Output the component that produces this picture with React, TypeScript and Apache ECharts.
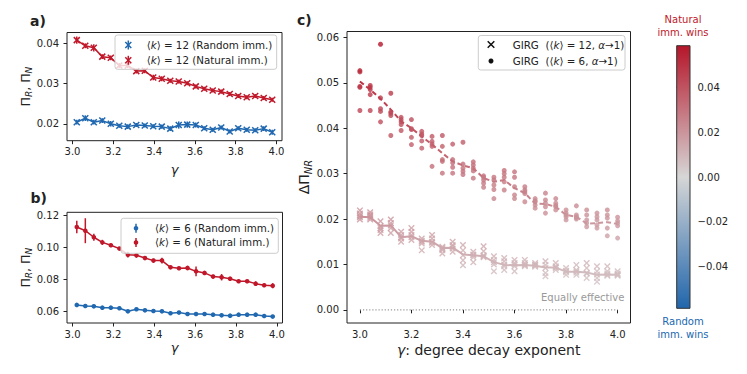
import React, { useEffect, useRef } from "react";
import * as echarts from "echarts";

const FONT = "'DejaVu Sans', 'Noto Sans', sans-serif";
const INK = "#222222";
const RED = "#c0182a";
const BLUE = "#2068b0";
const CMAP_COLORS = ["#2166ac", "#d6d6d6", "#b5162a"];
const CMAP_LIMIT = 0.0586;

// ---------- panels a) and b) ----------
const gammaAB = [3.0208, 3.0625, 3.1042, 3.1458, 3.1875, 3.2292, 3.2708, 3.3125, 3.3542, 3.3958, 3.4375, 3.4792,
  3.5208, 3.5625, 3.6042, 3.6458, 3.6875, 3.7292, 3.7708, 3.8125, 3.8542, 3.8958, 3.9375, 3.9792];

const naturalK12 = [0.0408, 0.0394, 0.0389, 0.0367, 0.0364, 0.0345, 0.0345, 0.0331, 0.0332, 0.0315, 0.0312, 0.0307,
  0.0305, 0.0301, 0.0293, 0.0287, 0.0283, 0.0280, 0.0274, 0.0269, 0.0266, 0.0269, 0.0264, 0.0260];
const naturalK12Err = [0.0009, 0.0006, 0.0009, 0.0006, 0.0006, 0.0006, 0.0006, 0.0006, 0.0006, 0.0007, 0.0006, 0.0005,
  0.0005, 0.0005, 0.0005, 0.0005, 0.0005, 0.0005, 0.0005, 0.0005, 0.0005, 0.0005, 0.0005, 0.0005];
const randomK12 = [0.0204, 0.0214, 0.0204, 0.0208, 0.0200, 0.0195, 0.0193, 0.0197, 0.0196, 0.0194, 0.0193, 0.0188,
  0.0197, 0.0198, 0.0197, 0.0189, 0.0185, 0.0191, 0.0181, 0.0189, 0.0185, 0.0184, 0.0188, 0.0179];
const randomK12Err = [0.0006, 0.0007, 0.0006, 0.0006, 0.0007, 0.0005, 0.0006, 0.0005, 0.0005, 0.0005, 0.0005, 0.0006,
  0.0009, 0.0008, 0.0006, 0.0005, 0.0005, 0.0005, 0.0005, 0.0005, 0.0005, 0.0005, 0.0006, 0.0006];

const naturalK6 = [0.1127, 0.1104, 0.1063, 0.1031, 0.1013, 0.0992, 0.0954, 0.0950, 0.0933, 0.0917, 0.0917, 0.0875,
  0.0869, 0.0871, 0.0850, 0.0840, 0.0817, 0.0813, 0.0804, 0.0788, 0.0788, 0.0773, 0.0763, 0.0760];
const naturalK6Err = [0.0039, 0.0078, 0.0022, 0.0016, 0.0010, 0.0008, 0.0018, 0.0015, 0.0012, 0.0012, 0.0018, 0.0010,
  0.0010, 0.0014, 0.0030, 0.0012, 0.0012, 0.0020, 0.0010, 0.0008, 0.0010, 0.0014, 0.0010, 0.0016];
const randomK6 = [0.0640, 0.0633, 0.0631, 0.0623, 0.0623, 0.0619, 0.0600, 0.0613, 0.0606, 0.0602, 0.0600, 0.0588,
  0.0592, 0.0583, 0.0583, 0.0583, 0.0579, 0.0575, 0.0573, 0.0579, 0.0579, 0.0579, 0.0571, 0.0567];
const randomK6Err = [0.0008, 0.0006, 0.0006, 0.0009, 0.0007, 0.0006, 0.0006, 0.0006, 0.0006, 0.0006, 0.0006, 0.0006,
  0.0006, 0.0006, 0.0006, 0.0006, 0.0006, 0.0006, 0.0006, 0.0006, 0.0006, 0.0006, 0.0006, 0.0006];

const xTicksAB = [3.0, 3.2, 3.4, 3.6, 3.8, 4.0];
const yTicksA = [0.02, 0.03, 0.04];
const yTicksB = [0.06, 0.08, 0.10, 0.12];

// ---------- panel c) ----------
const gammaC = [3.00, 3.04, 3.08, 3.12, 3.16, 3.20, 3.24, 3.28, 3.32, 3.36, 3.40, 3.44, 3.48,
  3.52, 3.56, 3.60, 3.64, 3.68, 3.72, 3.76, 3.80, 3.84, 3.88, 3.92, 3.96, 4.00];

const girgK6Runs = [
  [0.0527, 0.0524, 0.0492, 0.0490, 0.0439],
  [0.0494, 0.0490, 0.0474, 0.0439, 0.0485],
  [0.0585, 0.0467, 0.0443, 0.0437, 0.0414],
  [0.0477, 0.0433, 0.0428, 0.0384, 0.0436],
  [0.0424, 0.0419, 0.0414, 0.0408, 0.0395],
  [0.0419, 0.0397, 0.0380, 0.0364, 0.0399],
  [0.0393, 0.0387, 0.0384, 0.0372, 0.0356],
  [0.0382, 0.0371, 0.0365, 0.0360, 0.0316],
  [0.0384, 0.0360, 0.0331, 0.0327, 0.0301],
  [0.0365, 0.0331, 0.0324, 0.0314, 0.0301],
  [0.0369, 0.0321, 0.0312, 0.0305, 0.0298],
  [0.0326, 0.0319, 0.0312, 0.0306, 0.0290],
  [0.0295, 0.0286, 0.0279, 0.0270, 0.0292],
  [0.0292, 0.0286, 0.0275, 0.0265, 0.0245],
  [0.0307, 0.0300, 0.0292, 0.0282, 0.0264],
  [0.0304, 0.0292, 0.0271, 0.0253, 0.0245],
  [0.0271, 0.0264, 0.0256, 0.0238, 0.0260],
  [0.0245, 0.0238, 0.0231, 0.0224, 0.0240],
  [0.0257, 0.0242, 0.0235, 0.0227, 0.0213],
  [0.0245, 0.0235, 0.0227, 0.0220, 0.0230],
  [0.0220, 0.0213, 0.0205, 0.0198, 0.0209],
  [0.0229, 0.0209, 0.0205, 0.0200, 0.0203],
  [0.0220, 0.0209, 0.0198, 0.0191, 0.0183],
  [0.0213, 0.0205, 0.0198, 0.0187, 0.0180],
  [0.0220, 0.0209, 0.0202, 0.0180, 0.0163],
  [0.0204, 0.0196, 0.0191, 0.0185, 0.0158],
];
const girgK6Mean = [0.0503, 0.0485, 0.0465, 0.0441, 0.0415, 0.0400, 0.0382, 0.0364, 0.0345, 0.0327, 0.0318, 0.0312,
  0.0290, 0.0282, 0.0286, 0.0268, 0.0257, 0.0234, 0.0233, 0.0227, 0.0209, 0.0205, 0.0190, 0.0191, 0.0193, 0.0189];

const girgK12Runs = [
  [0.0219, 0.0212, 0.0204, 0.0199, 0.0207],
  [0.0215, 0.0207, 0.0199, 0.0203, 0.0210],
  [0.0195, 0.0184, 0.0176, 0.0169, 0.0180],
  [0.0199, 0.0191, 0.0180, 0.0169, 0.0186],
  [0.0172, 0.0165, 0.0157, 0.0150, 0.0160],
  [0.0180, 0.0172, 0.0165, 0.0154, 0.0160],
  [0.0157, 0.0146, 0.0131, 0.0152, 0.0150],
  [0.0165, 0.0157, 0.0150, 0.0143, 0.0148],
  [0.0139, 0.0131, 0.0124, 0.0136, 0.0134],
  [0.0150, 0.0143, 0.0135, 0.0128, 0.0140],
  [0.0143, 0.0131, 0.0120, 0.0109, 0.0098],
  [0.0128, 0.0116, 0.0105, 0.0122, 0.0120],
  [0.0140, 0.0129, 0.0118, 0.0116, 0.0120],
  [0.0118, 0.0110, 0.0085, 0.0105, 0.0100],
  [0.0114, 0.0107, 0.0096, 0.0088, 0.0100],
  [0.0110, 0.0103, 0.0096, 0.0085, 0.0100],
  [0.0110, 0.0103, 0.0096, 0.0098, 0.0100],
  [0.0103, 0.0097, 0.0099, 0.0095, 0.0100],
  [0.0107, 0.0099, 0.0092, 0.0081, 0.0074],
  [0.0103, 0.0096, 0.0088, 0.0092, 0.0094],
  [0.0092, 0.0085, 0.0077, 0.0083, 0.0086],
  [0.0099, 0.0088, 0.0077, 0.0082, 0.0085],
  [0.0103, 0.0092, 0.0081, 0.0070, 0.0080],
  [0.0096, 0.0085, 0.0070, 0.0062, 0.0078],
  [0.0096, 0.0085, 0.0077, 0.0080, 0.0075],
  [0.0085, 0.0077, 0.0078, 0.0075, 0.0080],
];
const girgK12Mean = [0.0205, 0.0204, 0.0185, 0.0186, 0.0160, 0.0162, 0.0152, 0.0150, 0.0136, 0.0137, 0.0122, 0.0120,
  0.0118, 0.0105, 0.0099, 0.0098, 0.0099, 0.0097, 0.0093, 0.0093, 0.0084, 0.0084, 0.0082, 0.0077, 0.0078, 0.0077];

const xTicksC = [3.0, 3.2, 3.4, 3.6, 3.8, 4.0];
const yTicksC = [0.0, 0.01, 0.02, 0.03, 0.04, 0.05, 0.06];
const colorbarTicks = [-0.04, -0.02, 0.0, 0.02, 0.04];
const equalLine = [3.0, 4.0];

// ---------- helpers ----------
const X_SYMBOL =
  "path://M0,1.8L1.8,0L6,4.2L10.2,0L12,1.8L7.8,6L12,10.2L10.2,12L6,7.8L1.8,12L0,10.2L4.2,6Z";

const zip3 = (xs: number[], ys: number[], es: number[]) => xs.map((x, i) => [x, ys[i], es[i]]);
const zip2 = (xs: number[], ys: number[]) => xs.map((x, i) => [x, ys[i]]);
const flatRuns = (xs: number[], runs: number[][]) => {
  const out: number[][] = [];
  xs.forEach((x, i) => runs[i].forEach((v) => out.push([x, v])));
  return out;
};

const errRender = (color: string, kind: "x" | "o") => (params: any, api: any) => {
  const x = api.value(0);
  const y = api.value(1);
  const e = api.value(2);
  const p = api.coord([x, y]);
  const t = api.coord([x, y + e]);
  const b = api.coord([x, y - e]);
  const children: any[] = [
    { type: "line", shape: { x1: p[0], y1: t[1], x2: p[0], y2: b[1] }, style: { stroke: color, lineWidth: 1.5 } },
  ];
  if (kind === "x") {
    const h = 3;
    children.push(
      { type: "line", shape: { x1: p[0] - h, y1: p[1] - h, x2: p[0] + h, y2: p[1] + h }, style: { stroke: color, lineWidth: 1.5 } },
      { type: "line", shape: { x1: p[0] - h, y1: p[1] + h, x2: p[0] + h, y2: p[1] - h }, style: { stroke: color, lineWidth: 1.5 } }
    );
  } else {
    children.push({ type: "circle", shape: { cx: p[0], cy: p[1], r: 2.3 }, style: { fill: color } });
  }
  return { type: "group", children };
};

const tickLabelStyle = { fontSize: 10, color: INK, fontFamily: FONT };
const tickStyle = { show: true, inside: false, length: 3.5, lineStyle: { color: INK, width: 1 } };

function valueAxis(gridIndex: number, min: number, max: number, ticks: number[], digits: number, margin: number) {
  return {
    type: "value",
    gridIndex,
    min,
    max,
    splitLine: { show: false },
    axisLine: { show: false },
    axisTick: { ...tickStyle, customValues: ticks },
    axisLabel: { ...tickLabelStyle, margin, customValues: ticks, formatter: (v: number) => v.toFixed(digits) },
  };
}

const txt = (x: number, y: number, text: string, extra: any = {}, rich?: any, rotation = 0): any => ({
  type: "text",
  x,
  y,
  rotation,
  z: 50,
  style: {
    text,
    fontSize: 10,
    fontFamily: FONT,
    fill: INK,
    align: "left",
    verticalAlign: "middle",
    ...(rich ? { rich } : {}),
    ...extra,
  },
});

const mk = (size: number, extra: any = {}) => ({ fontSize: size, fontFamily: FONT, fill: INK, color: INK, ...extra });

function legendBox(x: number, y: number, w: number, h: number): any {
  return {
    type: "rect",
    z: 40,
    shape: { x, y, width: w, height: h, r: 2.5 },
    style: { fill: "rgba(255,255,255,0.8)", stroke: "#cccccc", lineWidth: 1 },
  };
}
function legendX(cx: number, cy: number, color: string, withBar: boolean, h = 3): any[] {
  const out: any[] = [
    { type: "line", z: 45, shape: { x1: cx - h, y1: cy - h, x2: cx + h, y2: cy + h }, style: { stroke: color, lineWidth: 1.5 } },
    { type: "line", z: 45, shape: { x1: cx - h, y1: cy + h, x2: cx + h, y2: cy - h }, style: { stroke: color, lineWidth: 1.5 } },
  ];
  if (withBar) out.push({ type: "line", z: 45, shape: { x1: cx, y1: cy - 4.5, x2: cx, y2: cy + 4.5 }, style: { stroke: color, lineWidth: 1.5 } });
  return out;
}
function legendDot(cx: number, cy: number, color: string, withBar: boolean, r = 2.3): any[] {
  const out: any[] = [{ type: "circle", z: 45, shape: { cx, cy, r }, style: { fill: color } }];
  if (withBar) out.push({ type: "line", z: 45, shape: { x1: cx, y1: cy - 4.5, x2: cx, y2: cy + 4.5 }, style: { stroke: color, lineWidth: 1.5 } });
  return out;
}

const legendRich = {
  n: mk(10.3),
  i: mk(10.3, { fontStyle: "italic" }),
};

export default function App() {
  const ref = useRef<HTMLDivElement>(null);

  useEffect(() => {
    if (!ref.current) return;
    const chart = echarts.init(ref.current, undefined, { renderer: "svg" });

    const gridA = { left: 67, top: 32.5, width: 215, height: 108.2 };
    const gridB = { left: 67, top: 212.3, width: 215.5, height: 110.7 };
    const gridC = { left: 347, top: 31.5, width: 283.5, height: 291.5 };
    const gridBar = { left: 676.7, top: 45.7, width: 13.3, height: 262.6 };
    const frame = { show: true, borderColor: INK, borderWidth: 1, backgroundColor: "transparent" };

    const axisTitleRich = {
      m: mk(12.5, { lineHeight: 15 }),
      s: mk(9, { fontStyle: "italic", lineHeight: 10, padding: [8, 0, 0, 0] }),
    };
    const axisTitleRichC = {
      m: mk(14, { lineHeight: 17 }),
      s: mk(10, { fontStyle: "italic", lineHeight: 11, padding: [9, 0, 0, 0] }),
    };

    const graphic: any[] = [
      // panel labels
      txt(30, 20.5, "a)", { fontSize: 14, fontWeight: "bold" }),
      txt(30.5, 198, "b)", { fontSize: 14, fontWeight: "bold" }),
      txt(297, 20, "c)", { fontSize: 14, fontWeight: "bold" }),
      // axis titles
      txt(25, 86.6, "{m|Π}{s|R}{m|, Π}{s|N}", { align: "center" }, axisTitleRich, Math.PI / 2),
      txt(174.5, 169, "γ", { align: "center", fontSize: 13, fontStyle: "italic" }),
      txt(25, 267.7, "{m|Π}{s|R}{m|, Π}{s|N}", { align: "center" }, axisTitleRich, Math.PI / 2),
      txt(174.5, 347.5, "γ", { align: "center", fontSize: 13, fontStyle: "italic" }),
      txt(304, 177, "{m|ΔΠ}{s|NR}", { align: "center" }, axisTitleRichC, Math.PI / 2),
      txt(488.7, 349.5, "{i|γ}{m|: degree decay exponent}", { align: "center" }, {
        m: mk(14),
        i: mk(14, { fontStyle: "italic" }),
      }),
      // annotation
      txt(624.3, 297.3, "Equally effective", { align: "right", fill: "#999999" }),
      // colorbar
      {
        type: "rect",
        z: 30,
        shape: { x: gridBar.left, y: gridBar.top, width: gridBar.width, height: gridBar.height },
        style: {
          fill: {
            type: "linear",
            x: 0,
            y: 0,
            x2: 0,
            y2: 1,
            colorStops: [
              { offset: 0, color: CMAP_COLORS[2] },
              { offset: 0.5, color: CMAP_COLORS[1] },
              { offset: 1, color: CMAP_COLORS[0] },
            ],
          },
          stroke: "#333333",
          lineWidth: 1,
        },
      },
      txt(683, 26.2, "Natural\nimm. wins", { align: "center", fill: RED, lineHeight: 12.5 }),
      txt(683, 328, "Random\nimm. wins", { align: "center", fill: BLUE, lineHeight: 12.5 }),
      // legend a
      legendBox(115, 35, 161.7, 34.3),
      ...legendX(128.3, 45, BLUE, true),
      ...legendX(128.3, 60.3, RED, true),
      txt(146.7, 45, "{n|⟨}{i|k}{n|⟩ = 12 (Random imm.)}", {}, legendRich),
      txt(146.7, 60.3, "{n|⟨}{i|k}{n|⟩ = 12 (Natural imm.)}", {}, legendRich),
      // legend b
      legendBox(121, 218.3, 157.3, 35),
      ...legendDot(136, 228.2, BLUE, true),
      ...legendDot(136, 242.4, RED, true),
      txt(155, 228.2, "{n|⟨}{i|k}{n|⟩ = 6 (Random imm.)}", {}, legendRich),
      txt(155, 242.4, "{n|⟨}{i|k}{n|⟩ = 6 (Natural imm.)}", {}, legendRich),
      // legend c
      legendBox(478.3, 35.5, 146.7, 34.5),
      ...legendX(491, 44.5, "#111111", false, 3.3),
      ...legendDot(491, 61, "#111111", false, 2.5),
      txt(512.7, 44.5, "{n|GIRG  (⟨}{i|k}{n|⟩ = 12, }{i|α}{n|→1)}", {}, legendRich),
      txt(512.7, 61, "{n|GIRG  (⟨}{i|k}{n|⟩ = 6, }{i|α}{n|→1)}", {}, legendRich),
    ];

    const option: any = {
      animation: false,
      backgroundColor: "#ffffff",
      textStyle: { fontFamily: FONT },
      grid: [
        { ...gridA, ...frame },
        { ...gridB, ...frame },
        { ...gridC, ...frame },
        { ...gridBar, show: false },
      ],
      xAxis: [
        valueAxis(0, 2.9729, 4.0271, xTicksAB, 1, 6),
        valueAxis(1, 2.9729, 4.0271, xTicksAB, 1, 6),
        valueAxis(2, 2.95, 4.05, xTicksC, 1, 6),
        { type: "value", gridIndex: 3, min: 0, max: 1, show: false },
      ],
      yAxis: [
        valueAxis(0, 0.0158, 0.0427, yTicksA, 2, 8),
        valueAxis(1, 0.0527, 0.1219, yTicksB, 2, 8),
        valueAxis(2, -0.0029, 0.0613, yTicksC, 2, 8),
        {
          type: "value",
          gridIndex: 3,
          position: "right",
          min: -CMAP_LIMIT,
          max: CMAP_LIMIT,
          splitLine: { show: false },
          axisLine: { show: false },
          axisTick: { ...tickStyle, customValues: colorbarTicks },
          axisLabel: {
            ...tickLabelStyle,
            margin: 7.5,
            customValues: colorbarTicks,
            formatter: (v: number) => (v < -1e-9 ? "\u2212" : "") + Math.abs(v).toFixed(2),
          },
        },
      ],
      visualMap: [
        {
          type: "continuous",
          show: false,
          min: -CMAP_LIMIT,
          max: CMAP_LIMIT,
          dimension: 1,
          seriesIndex: [8, 9, 10, 11],
          inRange: { color: CMAP_COLORS },
        },
      ],
      series: [
        // 0-3: panel a
        { type: "line", xAxisIndex: 0, yAxisIndex: 0, data: zip2(gammaAB, randomK12), symbol: "none", lineStyle: { color: BLUE, width: 1.5 }, z: 2 },
        { type: "line", xAxisIndex: 0, yAxisIndex: 0, data: zip2(gammaAB, naturalK12), symbol: "none", lineStyle: { color: RED, width: 1.5 }, z: 2 },
        { type: "custom", xAxisIndex: 0, yAxisIndex: 0, data: zip3(gammaAB, randomK12, randomK12Err), renderItem: errRender(BLUE, "x"), encode: { x: 0, y: 1 }, z: 3 },
        { type: "custom", xAxisIndex: 0, yAxisIndex: 0, data: zip3(gammaAB, naturalK12, naturalK12Err), renderItem: errRender(RED, "x"), encode: { x: 0, y: 1 }, z: 3 },
        // 4-7: panel b
        { type: "line", xAxisIndex: 1, yAxisIndex: 1, data: zip2(gammaAB, randomK6), symbol: "none", lineStyle: { color: BLUE, width: 1.5 }, z: 2 },
        { type: "line", xAxisIndex: 1, yAxisIndex: 1, data: zip2(gammaAB, naturalK6), symbol: "none", lineStyle: { color: RED, width: 1.5 }, z: 2 },
        { type: "custom", xAxisIndex: 1, yAxisIndex: 1, data: zip3(gammaAB, randomK6, randomK6Err), renderItem: errRender(BLUE, "o"), encode: { x: 0, y: 1 }, z: 3 },
        { type: "custom", xAxisIndex: 1, yAxisIndex: 1, data: zip3(gammaAB, naturalK6, naturalK6Err), renderItem: errRender(RED, "o"), encode: { x: 0, y: 1 }, z: 3 },
        // 8-11: panel c
        { type: "scatter", xAxisIndex: 2, yAxisIndex: 2, data: flatRuns(gammaC, girgK6Runs), symbol: "circle", symbolSize: 5, z: 3 },
        { type: "scatter", xAxisIndex: 2, yAxisIndex: 2, data: flatRuns(gammaC, girgK12Runs), symbol: X_SYMBOL, symbolSize: 6.5, z: 3 },
        { type: "line", xAxisIndex: 2, yAxisIndex: 2, data: zip2(gammaC, girgK6Mean), symbol: "none", lineStyle: { width: 2, type: [5, 3] }, z: 4 },
        { type: "line", xAxisIndex: 2, yAxisIndex: 2, data: zip2(gammaC, girgK12Mean), symbol: "none", lineStyle: { width: 2 }, z: 4 },
        // 12: zero reference
        {
          type: "line",
          xAxisIndex: 2,
          yAxisIndex: 2,
          data: equalLine.map((g) => [g, 0]),
          symbol: "none",
          lineStyle: { color: "#999999", width: 1.2, type: [1.2, 1.9] },
          z: 2,
        },
      ],
      graphic,
    };

    chart.setOption(option);
    return () => chart.dispose();
  }, []);

  return <div ref={ref} style={{ position: "fixed", left: 0, top: 0, width: 747, height: 374 }} />;
}
